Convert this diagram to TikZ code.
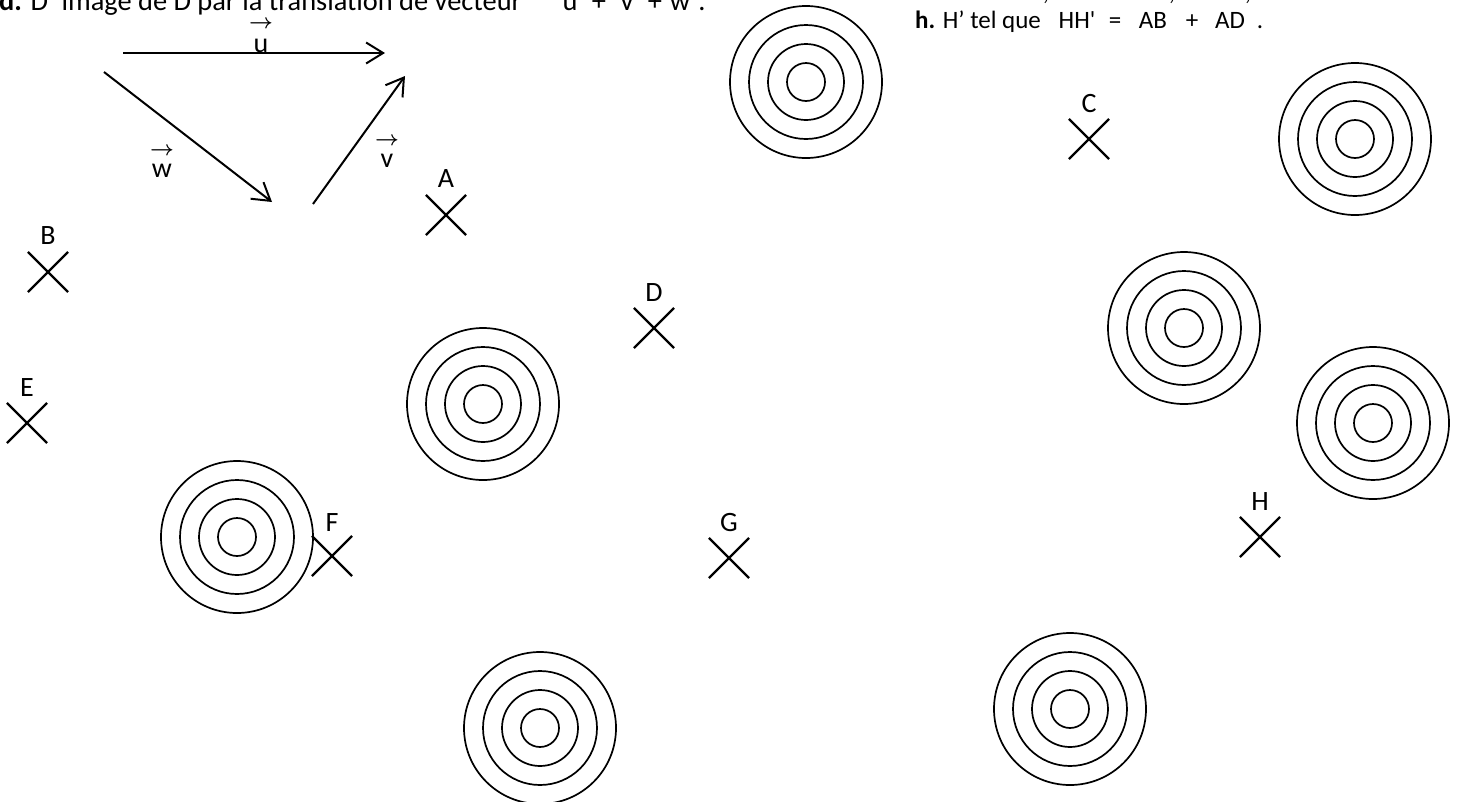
\documentclass[tikz,border=0pt]{standalone}
\usepackage{fontspec}
\setmainfont{Carlito}
\usetikzlibrary{arrows.meta,shapes.misc}
\begin{document}
\begin{tikzpicture}[x=1pt,y=-1pt,
  crossmark/.style={draw,cross out,minimum size=38pt,inner sep=0pt,line width=2.2pt},
  ptlabel/.style={font=\fontsize{28}{30}\selectfont,inner sep=0pt,anchor=base},
  txt/.style={font=\fontsize{25}{28}\selectfont,inner sep=0pt,anchor=base},
  dtxtstyle/.style={font=\fontsize{28.4}{30}\selectfont,inner sep=0pt,anchor=base},
  vecarrow/.style={line width=2pt,-{Straight Barb[length=17pt,width=21pt]}},
  ring/.style={line width=1.7pt},
  arrsym/.style={font=\fontsize{21}{21}\selectfont\boldmath,inner sep=0pt}
]
\useasboundingbox (0,0) rectangle (1462,801);
\clip (0,0) rectangle (1462,801);

% header texts
\node[dtxtstyle,anchor=base west] (dtxt) at (-1,10) {\textbf{d.} D’ image de D par la translation de vecteur};
\node[dtxtstyle] (du) at (570,10) {u};
\node[dtxtstyle] (dp1) at (599,10) {+};
\node[dtxtstyle] (dv) at (627,10) {v};
\node[dtxtstyle] (dp2) at (655,10) {+};
\node[dtxtstyle] (dw) at (680,10) {w};
\node[dtxtstyle] (ddot) at (702,10) {.};

\node[txt] (c1) at (1046,0) {,};
\node[txt] (c2) at (1172,0) {,};
\node[txt] (c3) at (1248,0) {,};
\node[txt,anchor=base west] (htxt) at (915,28) {\textbf{h.} H’ tel que};
\node[txt] (hHH) at (1077,28) {HH\textquotesingle};
\node[txt] (heq) at (1115,28) {=};
\node[txt] (hAB) at (1153,28) {AB};
\node[txt] (hp) at (1192,28) {+};
\node[txt] (hAD) at (1230,28) {AD};
\node[txt] (hdot) at (1260,28) {.};

% vectors
\coordinate (us) at (123,53);
\coordinate (ue) at (385,53);
\coordinate (ws) at (104,72);
\coordinate (we) at (272,202);
\coordinate (vs) at (313,204);
\coordinate (ve) at (405,76);
\draw[vecarrow] (us) -- (ue);
\draw[vecarrow] (ws) -- (we);
\draw[vecarrow] (vs) -- (ve);
\node[arrsym] (ua) at (261,24) {$\rightarrow$};
\node[ptlabel] (ul) at (261,52) {u};
\node[arrsym] (va) at (387,141) {$\rightarrow$};
\node[ptlabel] (vl) at (387,167) {v};
\node[arrsym] (wa) at (162,151) {$\rightarrow$};
\node[ptlabel] (wl) at (162,177) {w};

% targets
\foreach \n/\cx/\cy in {1/806/82,2/1355/139,3/1184/328,4/1373/423,5/483/404,6/237/537,7/540/728,8/1070/709}{
  \coordinate (t\n) at (\cx,\cy);
  \foreach \r in {19,38,57,76}{\draw[ring] (t\n) circle[radius=\r pt];}
}

% points
\foreach \n/\cx/\cy/\ly in {A/446/215/187,B/48/272/244,C/1089/139/112,D/654/328/301,E/27/423/396,F/332/556/531,G/729/558/531,H/1260/537/510}{
  \node[crossmark] (\n) at (\cx,\cy) {};
  \node[ptlabel] (\n lab) at (\cx,\ly) {\n};
}
\end{tikzpicture}
\end{document}
